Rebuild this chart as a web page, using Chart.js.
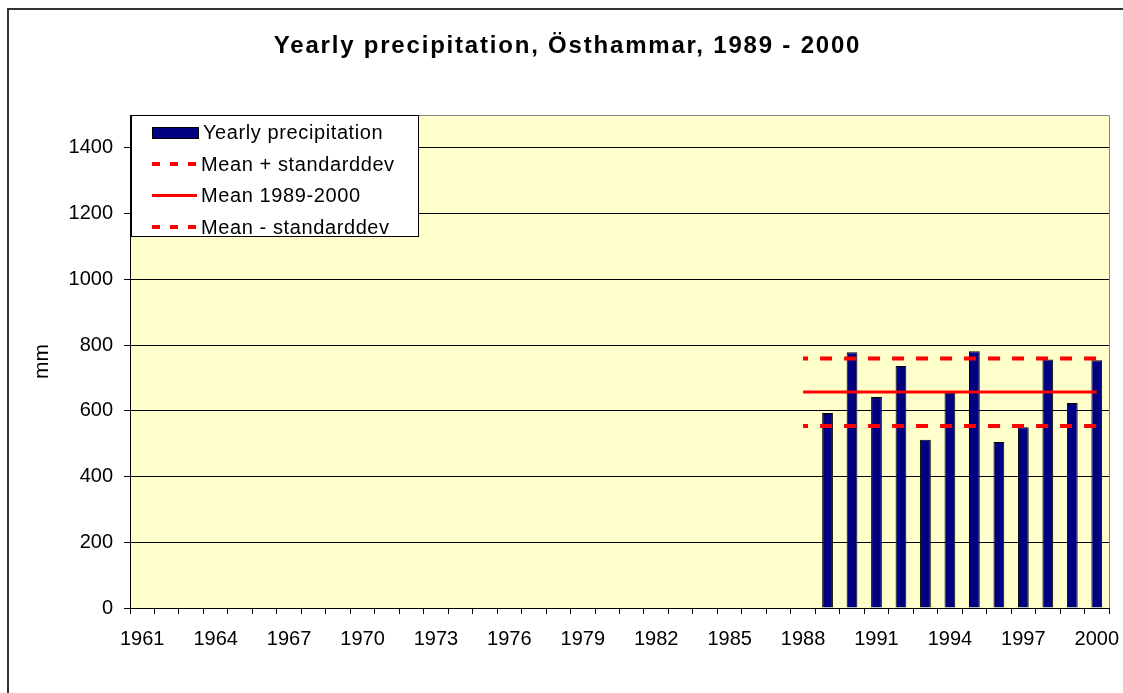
<!DOCTYPE html>
<html>
<head>
<meta charset="utf-8">
<script src="https://cdn.jsdelivr.net/npm/chart.js@4.4.1/dist/chart.umd.min.js"></script>
<style>
  html, body { margin: 0; padding: 0; background: #fff; }
  #wrap { position: relative; width: 1123px; height: 693px; overflow: hidden; font-family: Arial, "Liberation Sans", sans-serif; }
  #frame { position: absolute; left: 7px; top: 8px; width: 1140px; height: 720px; border: 2px solid #333; box-sizing: border-box; pointer-events: none; }
  #title { position: absolute; left: 0; top: 31px; width: 1135px; text-align: center; font-weight: bold; font-size: 24px; letter-spacing: 1.8px; color: #000; }
  #legend { position: absolute; left: 131px; top: 115px; width: 288px; height: 122px; box-sizing: border-box; background: #fff; border: 1px solid #000; padding-top: 1px; }
  .item { height: 31.5px; display: flex; align-items: center; font-size: 20px; letter-spacing: 0.6px; color: #000; }
  .sw { width: 45px; margin-left: 20px; margin-right: 4px; }
  .sw.bar { height: 10px; border: 1px solid #000; }
  .sw.line { height: 3px; background: red; }
  .sw.dash { height: 4px; background: repeating-linear-gradient(90deg, red 0 8px, transparent 8px 18px); }
  canvas { position: absolute; left: 0; top: 0; }
</style>
</head>
<body>
<div id="wrap">
  <canvas id="chart" width="1123" height="693"></canvas>
  <div id="title">Yearly precipitation, Östhammar, 1989 - 2000</div>
  <div id="legend"></div>
  <div id="frame"></div>
</div>
<script>
const years = ["1961","1962","1963","1964","1965","1966","1967","1968","1969","1970",
  "1971","1972","1973","1974","1975","1976","1977","1978","1979","1980",
  "1981","1982","1983","1984","1985","1986","1987","1988","1989","1990",
  "1991","1992","1993","1994","1995","1996","1997","1998","1999","2000"];

const precipYears = ["1989","1990","1991","1992","1993","1994","1995","1996","1997","1998","1999","2000"];
const precipValues = [593, 778, 642, 736, 512, 655, 781, 505, 550, 756, 624, 754];

const lineYears = ["1988", "2000"];
const meanPlusSd = [759, 759];
const meanValues = [657, 657];
const meanMinusSd = [554, 554];

const yTicks = [0, 200, 400, 600, 800, 1000, 1200, 1400];

const pairs = (xs, ys) => xs.map((x, i) => ({ x, y: ys[i] }));

const plotBg = {
  id: "plotBg",
  beforeDraw(chart) {
    const { ctx, chartArea: a } = chart;
    ctx.save();
    ctx.fillStyle = "#FFFFCC";
    ctx.fillRect(a.left, a.top, a.right - a.left, a.bottom - a.top);
    ctx.strokeStyle = "#808080";
    ctx.lineWidth = 1;
    ctx.beginPath();
    ctx.moveTo(a.left, a.top + 0.5);
    ctx.lineTo(a.right + 0.5, a.top + 0.5);
    ctx.lineTo(a.right + 0.5, a.bottom);
    ctx.stroke();
    ctx.restore();
  }
};

const dashed = { borderWidth: 4, borderDash: [12, 12], borderDashOffset: 7 };

const datasets = [
  {
    type: "bar",
    label: "Yearly precipitation",
    data: pairs(precipYears, precipValues),
    backgroundColor: "#000080",
    borderColor: "#000",
    borderWidth: 1,
    barPercentage: 0.44,
    categoryPercentage: 1,
    order: 2
  },
  {
    type: "line",
    label: "Mean + standarddev",
    data: pairs(lineYears, meanPlusSd),
    borderColor: "#FF0000",
    ...dashed,
    pointRadius: 0,
    fill: false,
    order: 1
  },
  {
    type: "line",
    label: "Mean 1989-2000",
    data: pairs(lineYears, meanValues),
    borderColor: "#FF0000",
    borderWidth: 3,
    pointRadius: 0,
    fill: false,
    order: 1
  },
  {
    type: "line",
    label: "Mean - standarddev",
    data: pairs(lineYears, meanMinusSd),
    borderColor: "#FF0000",
    ...dashed,
    pointRadius: 0,
    fill: false,
    order: 1
  }
];

// legend as html
const legendEl = document.getElementById("legend");
datasets.forEach(ds => {
  const row = document.createElement("div");
  row.className = "item";
  const sw = document.createElement("span");
  if (ds.type === "bar") {
    sw.className = "sw bar";
    sw.style.background = ds.backgroundColor;
  } else {
    sw.className = ds.borderDash ? "sw dash" : "sw line";
  }
  const txt = document.createElement("span");
  txt.textContent = ds.label;
  row.appendChild(sw);
  row.appendChild(txt);
  legendEl.appendChild(row);
});

const font = { family: "Arial, 'Liberation Sans', sans-serif", size: 20 };

new Chart(document.getElementById("chart"), {
  data: { labels: years, datasets },
  plugins: [plotBg],
  options: {
    responsive: false,
    animation: false,
    layout: { padding: { left: 0, top: 115, right: 14, bottom: 0 } },
    plugins: {
      legend: { display: false },
      tooltip: { enabled: false }
    },
    scales: {
      x: {
        type: "category",
        offset: true,
        grid: { offset: true, drawOnChartArea: false, drawTicks: true, tickLength: 6, color: "#000" },
        border: { color: "#000", width: 1 },
        ticks: {
          autoSkip: false,
          maxRotation: 0,
          color: "#000",
          font,
          padding: 13,
          callback: (v, i) => (i % 3 === 0 ? years[i] : "")
        },
        afterFit: s => { s.height = 85; s.paddingLeft = 0; s.paddingRight = 0; }
      },
      y: {
        min: 0,
        max: 1500,
        afterBuildTicks: s => { s.ticks = yTicks.map(v => ({ value: v })); },
        grid: { color: "#000", tickLength: 6, drawTicks: true },
        border: { color: "#000", width: 1 },
        ticks: { color: "#000", font, padding: 11, callback: v => String(v) },
        title: { display: true, text: "mm", color: "#000", font: { family: font.family, size: 21 }, padding: { top: 30, bottom: 0 } },
        afterFit: s => { s.width = 130; s.paddingTop = 0; s.paddingBottom = 0; }
      }
    }
  }
});
</script>
</body>
</html>
